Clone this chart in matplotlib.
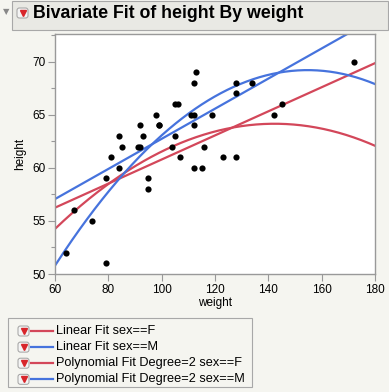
#!/usr/bin/env python3

import numpy as np
import matplotlib as mpl
mpl.use("Agg")
import matplotlib.pyplot as plt
from matplotlib.patches import Rectangle, FancyBboxPatch
from matplotlib.lines import Line2D

##~~~~~~~~ Data (Big Class) ~~~~~~~~
sex = ['F', 'F', 'F', 'F', 'F', 'M', 'M', 'M', 'F', 'F', 'F', 'M', 'M', 'M', 'M', 'F', 'F', 'F', 'F', 'F',
       'M', 'M', 'M', 'M', 'M', 'M', 'M', 'F', 'F', 'M', 'M', 'M', 'M', 'M', 'F', 'F', 'M', 'F', 'M', 'M']
height = [59, 61, 55, 66, 52, 60, 61, 51, 60, 61, 56, 65, 63, 58, 59, 61, 62, 65, 63, 62,
          63, 64, 65, 64, 68, 64, 69, 62, 64, 67, 65, 66, 62, 66, 65, 60, 68, 62, 68, 70]
weight = [95, 123, 74, 145, 64, 84, 128, 79, 112, 107, 67, 98, 105, 95, 79, 81, 91, 142, 84, 85,
          93, 99, 119, 92, 112, 99, 113, 92, 112, 128, 111, 105, 104, 106, 112, 115, 128, 116, 134, 172]
x_ticks = [60, 80, 100, 120, 140, 160, 180]
y_ticks = [50, 55, 60, 65, 70]
legend_labels = ["Linear Fit sex==F", "Linear Fit sex==M",
                 "Polynomial Fit Degree=2 sex==F", "Polynomial Fit Degree=2 sex==M"]
##~~~~~~~~~~~~~~~~~~~~~~~~~~~~~~~~~~

RED = '#D3475A'
BLUE = '#4673DD'
BG = '#F5F5F0'
font = 'Liberation Sans'
plt.rcParams['font.family'] = [font, 'DejaVu Sans']

sex = np.array(sex)
height = np.array(height, dtype=float)
weight = np.array(weight, dtype=float)

fig = plt.figure(figsize=(3.89, 3.92), dpi=100, facecolor=BG)
ax = fig.add_axes([55/389, 118/392, 320/389, 240/392])
ax.set_facecolor('white')

xs = np.linspace(60, 180, 300)
fits = []
for deg in (1, 2):
    for s, c in (('F', RED), ('M', BLUE)):
        m = sex == s
        p = np.polyfit(weight[m], height[m], deg)
        ax.plot(xs, np.polyval(p, xs), color=c, lw=1.6, zorder=2)
        fits.append(c)

ax.scatter(weight, height, s=20, color='black', zorder=3, linewidths=0)

ax.set_xlim(60, 180)
ax.set_ylim(50, 72.6)
ax.set_xticks(x_ticks)
ax.set_yticks(y_ticks)
ax.set_yticks([52.5, 57.5, 62.5, 67.5, 72.5], minor=True)
ax.tick_params(axis='both', which='major', length=5, width=0.8, color='#999999',
               labelsize=8.5, pad=2)
ax.tick_params(axis='both', which='minor', length=3, width=0.8, color='#999999')
for sp in ax.spines.values():
    sp.set_color('#999999')
    sp.set_linewidth(1.0)
ax.set_xlabel('weight', fontsize=8.5, labelpad=1)
ax.set_ylabel('height', fontsize=8.5, labelpad=4)

# title band
fig.patches.append(Rectangle((12/389, 1 - 30/392), 376/389, 29/392, transform=fig.transFigure,
                             facecolor='#E9E9E4', edgecolor='#A8A8A8', lw=0.8))
fig.text(6/389, 1 - 12/392, u'\u25BC', fontsize=6, color='#888888', ha='center', va='center',
         family=['DejaVu Sans'])


def button(x, y):
    fig.patches.append(FancyBboxPatch((x/389, 1 - (y + 5)/392), 11/389, 10/392,
                                      boxstyle='round,pad=0,rounding_size=0.006',
                                      transform=fig.transFigure, facecolor='#F4F4F4',
                                      edgecolor='#A0A0A0', lw=0.7))
    fig.lines.append(Line2D([(x + 5.5)/389], [1 - (y - 0.5)/392], transform=fig.transFigure,
                            marker='v', markersize=4.5, color='#D8262B', lw=0))


button(17, 13)
fig.text(33/389, 1 - 13/392, 'Bivariate Fit of height By weight', fontsize=12.8,
         fontweight='bold', ha='left', va='center')

# legend
fig.patches.append(Rectangle((8/389, 1 - 387/392), 244/389, 69/392, transform=fig.transFigure,
                             facecolor=BG, edgecolor='#A8A8A8', lw=0.8))
for i, (lab, c) in enumerate(zip(legend_labels, fits)):
    y = 331 + i * 16.1
    button(18, y)
    fig.lines.append(Line2D([31/389, 53/389], [1 - y/392, 1 - y/392], transform=fig.transFigure,
                            color=c, lw=1.6))
    fig.text(56/389, 1 - y/392, lab, fontsize=9.2, ha='left', va='center')

fig.savefig('out.png', dpi=100, facecolor=BG)
